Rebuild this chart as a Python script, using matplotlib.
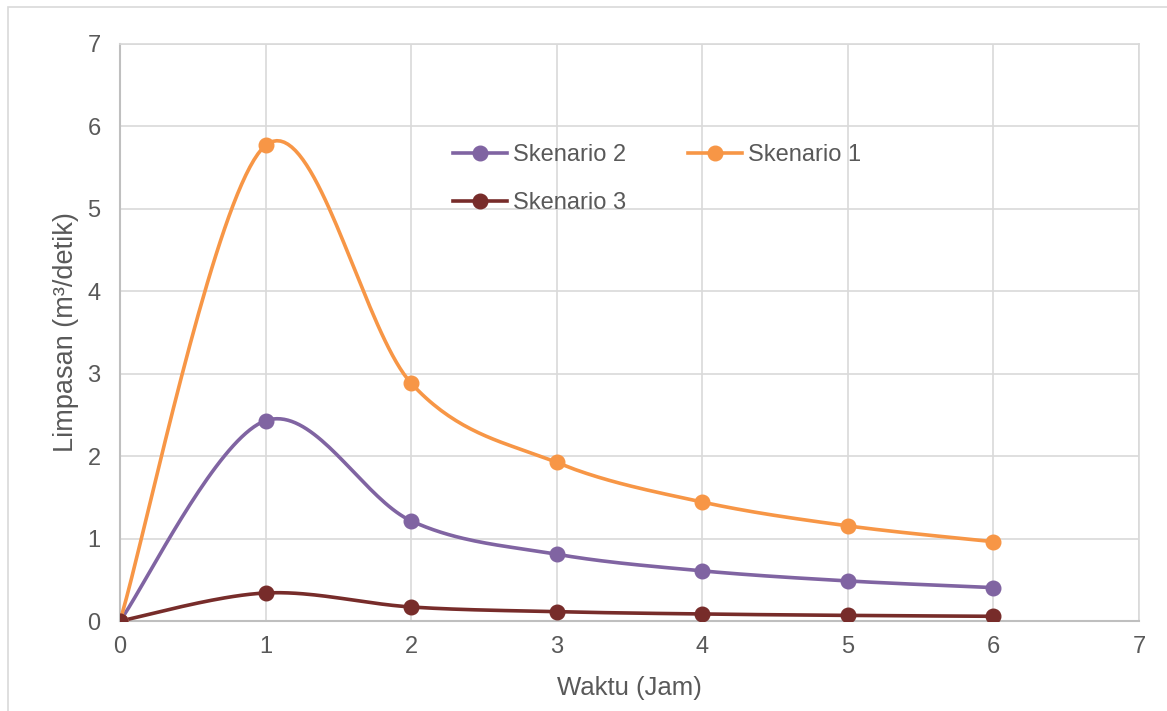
import numpy as np
import matplotlib.pyplot as plt
from matplotlib.patches import Rectangle

plt.rcParams['font.family'] = ['Liberation Sans', 'DejaVu Sans']

waktu = [0, 1, 2, 3, 4, 5, 6]
skenario1 = [0, 5.77, 2.885, 1.923, 1.443, 1.154, 0.962]
skenario2 = [0, 2.43, 1.215, 0.81, 0.608, 0.486, 0.405]
skenario3 = [0, 0.34, 0.17, 0.113, 0.085, 0.068, 0.057]


def smooth(x, y, n=40):
    # excel-like smoothing: bezier segments with catmull-rom control points
    x = np.asarray(x, float)
    y = np.asarray(y, float)
    xs, ys = [], []
    for i in range(len(x) - 1):
        i0 = max(i - 1, 0)
        i3 = min(i + 2, len(x) - 1)
        p0 = np.array([x[i], y[i]])
        p3 = np.array([x[i + 1], y[i + 1]])
        p1 = p0 + (p3 - np.array([x[i0], y[i0]])) / 6
        p2 = p3 - (np.array([x[i3], y[i3]]) - p0) / 6
        t = np.linspace(0, 1, n)[:, None]
        b = (1 - t)**3 * p0 + 3 * (1 - t)**2 * t * p1 + 3 * (1 - t) * t**2 * p2 + t**3 * p3
        xs.extend(b[:, 0])
        ys.extend(b[:, 1])
    return xs, ys


fig = plt.figure(figsize=(11.67, 7.11), dpi=100)
ax = fig.add_axes([120 / 1167, 1 - 621 / 711, (1139 - 120) / 1167, (621 - 44) / 711])

fig.patches.append(Rectangle((8 / 1167, -0.1), 1.2, 1.1 - 7 / 711, transform=fig.transFigure,
                             fill=False, edgecolor='#d9d9d9', linewidth=1.2))

series = [("Skenario 2", skenario2, "#8064A2"),
          ("Skenario 1", skenario1, "#F79646"),
          ("Skenario 3", skenario3, "#772C2A")]
handles = {}
for label, vals, col in series:
    sx, sy = smooth(waktu, vals)
    ax.plot(sx, sy, color=col, linewidth=2.6, solid_capstyle='round', zorder=3)
    ax.plot(waktu, vals, 'o', color=col, markersize=10.5, zorder=4)
    h, = ax.plot([], [], color=col, linewidth=2.6, marker='o', markersize=10.5)
    handles[label] = h

ax.set_xlim(0, 7)
ax.set_ylim(0, 7)
ax.set_xticks(range(8))
ax.set_yticks(range(8))
ax.grid(color='#d9d9d9', linewidth=1.2)
ax.set_axisbelow(True)
for s in ['top', 'right']:
    ax.spines[s].set_color('#d9d9d9')
    ax.spines[s].set_linewidth(1.2)
for s in ['left', 'bottom']:
    ax.spines[s].set_color('#bfbfbf')
    ax.spines[s].set_linewidth(1.5)
ax.tick_params(length=0, labelsize=17, labelcolor='#595959')
ax.tick_params(axis='x', pad=11)
ax.tick_params(axis='y', pad=14)

ax.set_xlabel('Waktu (Jam)', fontsize=18.5, color='#595959', labelpad=13)
ax.set_ylabel('Limpasan (m³/detik)', fontsize=19.5, color='#595959', labelpad=6)

order = ["Skenario 2", "Skenario 3", "Skenario 1"]
ax.legend([handles[k] for k in order], order, ncol=2, frameon=False,
          loc='upper left', bbox_to_anchor=(453 / 1167, 1 - 144 / 711),
          bbox_transform=fig.transFigure, borderaxespad=0, borderpad=0,
          handlelength=2.3, handletextpad=0.25, columnspacing=2.6,
          labelspacing=1.1, fontsize=17, labelcolor='#595959')

fig.savefig('out.png', dpi=100)
